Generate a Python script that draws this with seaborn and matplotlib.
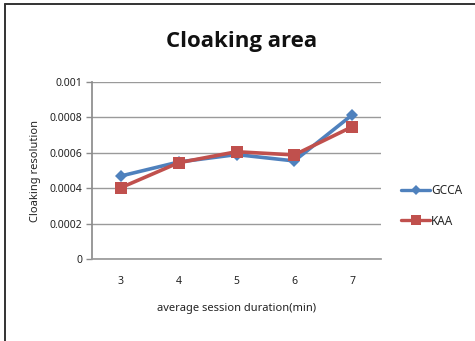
import matplotlib
matplotlib.use("Agg")
import matplotlib.pyplot as plt
import seaborn as sns
import pandas as pd
from matplotlib.lines import Line2D

# Session durations (minutes) and the cloaking resolution of each algorithm
durations = ["3", "4", "5", "6", "7"]
gcca = [0.000469, 0.000548, 0.000590, 0.000554, 0.000814]
kaa = [0.000403, 0.000544, 0.000606, 0.000588, 0.000747]
series_names = ["GCCA", "KAA"]
y_ticks = [0, 0.0002, 0.0004, 0.0006, 0.0008, 0.001]
y_tick_labels = ["0", "0.0002", "0.0004", "0.0006", "0.0008", "0.001"]

df = pd.DataFrame({
    "duration": durations * 2,
    "value": gcca + kaa,
    "series": [series_names[0]] * len(durations) + [series_names[1]] * len(durations),
})

sns.set_theme(style="white")
plt.rcParams["font.family"] = ["Noto Sans", "DejaVu Sans"]

palette = {"GCCA": "#4F81BD", "KAA": "#C0504D"}
markers = {"GCCA": "D", "KAA": "s"}
msizes = {"GCCA": 6, "KAA": 9}

fig = plt.figure(figsize=(4.75, 3.41), dpi=100)
ax = fig.add_axes([92 / 475, 1 - 259 / 341, 289 / 475, 177 / 341])

sns.lineplot(data=df, x="duration", y="value", hue="series", style="series",
             palette=palette, markers=markers, dashes=False, linewidth=2.6,
             markeredgewidth=0, ax=ax, legend=False, sort=False)

for line, name in zip(ax.get_lines(), series_names):
    line.set_markersize(msizes[name])

ax.set_xlim(-0.5, len(durations) - 0.5)
ax.set_ylim(0, 0.001)
ax.set_yticks(y_ticks)
ax.set_yticklabels(y_tick_labels)
ax.grid(axis="y", color="#9a9a9a", linewidth=1.0)
ax.set_axisbelow(True)
for side in ["top", "right"]:
    ax.spines[side].set_visible(False)
ax.spines["left"].set_color("#8c8c8c")
ax.spines["bottom"].set_color("#9a9a9a")
ax.tick_params(axis="y", length=4, width=1, color="#8c8c8c", labelsize=7.5,
               labelcolor="#222222", pad=3, left=True)
ax.tick_params(axis="x", length=0, labelsize=7.5, labelcolor="#222222", pad=12)

ax.set_xlabel("average session duration(min)", fontsize=8, color="#222222", labelpad=12)
ax.set_ylabel("Cloaking resolution", fontsize=8, color="#222222", labelpad=6)

fig.text(242 / 475, 1 - 42 / 341, "Cloaking area", ha="center", va="center",
         fontsize=16, fontweight="bold", color="#111111",
         family=["Open Sans", "DejaVu Sans"])

handles = [
    Line2D([], [], color=palette[n], marker=markers[n], markersize=msizes[n] * 0.85,
           linewidth=2.4, markeredgewidth=0)
    for n in series_names
]
fig.legend(handles, series_names, loc="center left",
           bbox_to_anchor=(395 / 475, 1 - 206 / 341), frameon=False,
           fontsize=8.5, handlelength=2.5, handletextpad=0.05,
           labelspacing=1.45, borderpad=0)

# Outer frame along the top and left edges
fig.add_artist(Line2D([5 / 475, 5 / 475], [0, 1 - 4 / 341], transform=fig.transFigure,
                      color="#333333", linewidth=1.4))
fig.add_artist(Line2D([5 / 475, 1], [1 - 4 / 341, 1 - 4 / 341], transform=fig.transFigure,
                      color="#333333", linewidth=1.4))

fig.savefig("out.png", dpi=100)
